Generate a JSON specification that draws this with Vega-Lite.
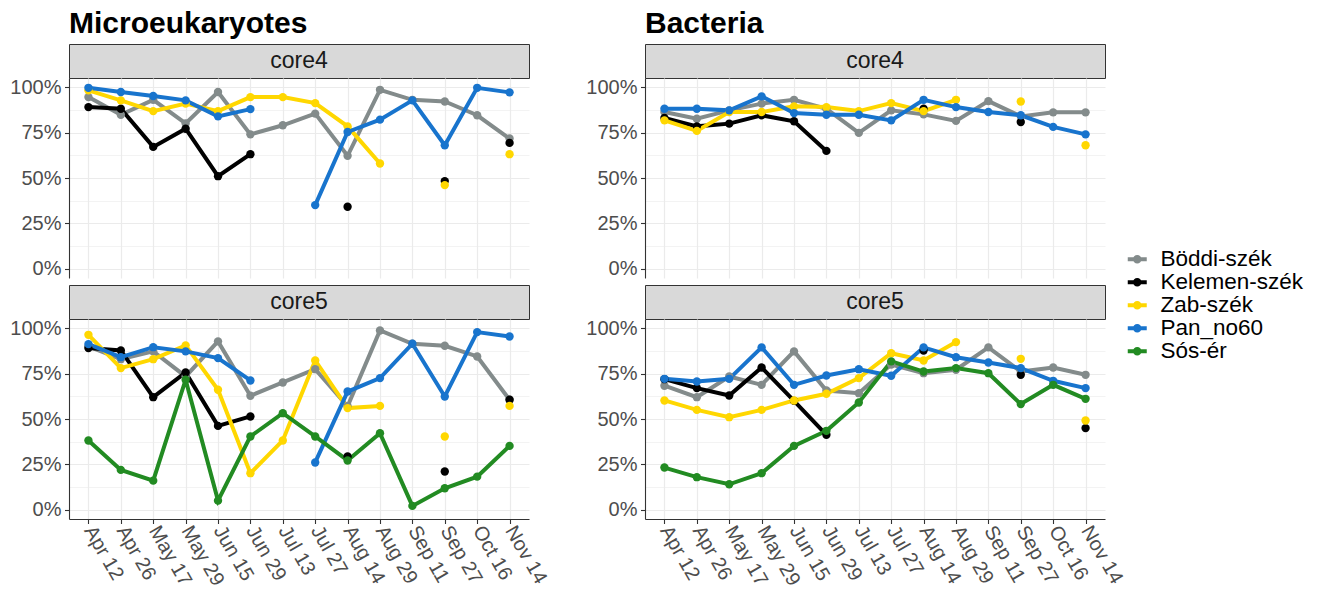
{
  "$schema": "https://vega.github.io/schema/vega-lite/v6.json",
  "padding": {"left": 9, "top": 8, "right": 5, "bottom": 5},
  "config": {
    "font": "Liberation Sans",
    "view": {"stroke": null},
    "axis": {
      "domainColor": "#333333",
      "domainWidth": 1.1,
      "tickColor": "#333333",
      "tickSize": 4.5,
      "tickWidth": 1.1,
      "labelColor": "#4D4D4D",
      "labelFontSize": 20,
      "labelPadding": 3.5,
      "gridColor": "#EBEBEB",
      "gridWidth": 1.2,
      "title": null
    },
    "legend": {
      "labelFontSize": 22.5,
      "labelColor": "#000000",
      "symbolType": "M-1,-0.2H1V0.2H-1Z M0.45,0A0.45,0.45,0,1,1,-0.45,0A0.45,0.45,0,1,1,0.45,0Z",
      "symbolSize": 361,
      "symbolStrokeWidth": 0,
      "rowPadding": 0,
      "labelOffset": 12,
      "padding": 0
    }
  },
  "datasets": {
    "turnover": [
      {"group": "Microeukaryotes", "core": "core4", "site": "Böddi-szék", "date": "Apr 12", "value": 0.945},
      {"group": "Microeukaryotes", "core": "core4", "site": "Böddi-szék", "date": "Apr 26", "value": 0.848},
      {"group": "Microeukaryotes", "core": "core4", "site": "Böddi-szék", "date": "May 17", "value": 0.93},
      {"group": "Microeukaryotes", "core": "core4", "site": "Böddi-szék", "date": "May 29", "value": 0.80},
      {"group": "Microeukaryotes", "core": "core4", "site": "Böddi-szék", "date": "Jun 15", "value": 0.973},
      {"group": "Microeukaryotes", "core": "core4", "site": "Böddi-szék", "date": "Jun 29", "value": 0.74},
      {"group": "Microeukaryotes", "core": "core4", "site": "Böddi-szék", "date": "Jul 13", "value": 0.79},
      {"group": "Microeukaryotes", "core": "core4", "site": "Böddi-szék", "date": "Jul 27", "value": 0.854},
      {"group": "Microeukaryotes", "core": "core4", "site": "Böddi-szék", "date": "Aug 14", "value": 0.622},
      {"group": "Microeukaryotes", "core": "core4", "site": "Böddi-szék", "date": "Aug 29", "value": 0.985},
      {"group": "Microeukaryotes", "core": "core4", "site": "Böddi-szék", "date": "Sep 11", "value": 0.93},
      {"group": "Microeukaryotes", "core": "core4", "site": "Böddi-szék", "date": "Sep 27", "value": 0.921},
      {"group": "Microeukaryotes", "core": "core4", "site": "Böddi-szék", "date": "Oct 16", "value": 0.845},
      {"group": "Microeukaryotes", "core": "core4", "site": "Böddi-szék", "date": "Nov 14", "value": 0.717},
      {"group": "Microeukaryotes", "core": "core4", "site": "Kelemen-szék", "date": "Apr 12", "value": 0.89},
      {"group": "Microeukaryotes", "core": "core4", "site": "Kelemen-szék", "date": "Apr 26", "value": 0.881},
      {"group": "Microeukaryotes", "core": "core4", "site": "Kelemen-szék", "date": "May 17", "value": 0.671},
      {"group": "Microeukaryotes", "core": "core4", "site": "Kelemen-szék", "date": "May 29", "value": 0.771},
      {"group": "Microeukaryotes", "core": "core4", "site": "Kelemen-szék", "date": "Jun 15", "value": 0.51},
      {"group": "Microeukaryotes", "core": "core4", "site": "Kelemen-szék", "date": "Jun 29", "value": 0.631},
      {"group": "Microeukaryotes", "core": "core4", "site": "Kelemen-szék", "date": "Jul 13", "value": null},
      {"group": "Microeukaryotes", "core": "core4", "site": "Kelemen-szék", "date": "Jul 27", "value": null},
      {"group": "Microeukaryotes", "core": "core4", "site": "Kelemen-szék", "date": "Aug 14", "value": 0.342},
      {"group": "Microeukaryotes", "core": "core4", "site": "Kelemen-szék", "date": "Aug 29", "value": null},
      {"group": "Microeukaryotes", "core": "core4", "site": "Kelemen-szék", "date": "Sep 11", "value": null},
      {"group": "Microeukaryotes", "core": "core4", "site": "Kelemen-szék", "date": "Sep 27", "value": 0.483},
      {"group": "Microeukaryotes", "core": "core4", "site": "Kelemen-szék", "date": "Oct 16", "value": null},
      {"group": "Microeukaryotes", "core": "core4", "site": "Kelemen-szék", "date": "Nov 14", "value": 0.693},
      {"group": "Microeukaryotes", "core": "core4", "site": "Zab-szék", "date": "Apr 12", "value": 0.982},
      {"group": "Microeukaryotes", "core": "core4", "site": "Zab-szék", "date": "Apr 26", "value": 0.927},
      {"group": "Microeukaryotes", "core": "core4", "site": "Zab-szék", "date": "May 17", "value": 0.868},
      {"group": "Microeukaryotes", "core": "core4", "site": "Zab-szék", "date": "May 29", "value": 0.909},
      {"group": "Microeukaryotes", "core": "core4", "site": "Zab-szék", "date": "Jun 15", "value": 0.868},
      {"group": "Microeukaryotes", "core": "core4", "site": "Zab-szék", "date": "Jun 29", "value": 0.945},
      {"group": "Microeukaryotes", "core": "core4", "site": "Zab-szék", "date": "Jul 13", "value": 0.945},
      {"group": "Microeukaryotes", "core": "core4", "site": "Zab-szék", "date": "Jul 27", "value": 0.912},
      {"group": "Microeukaryotes", "core": "core4", "site": "Zab-szék", "date": "Aug 14", "value": 0.784},
      {"group": "Microeukaryotes", "core": "core4", "site": "Zab-szék", "date": "Aug 29", "value": 0.58},
      {"group": "Microeukaryotes", "core": "core4", "site": "Zab-szék", "date": "Sep 11", "value": null},
      {"group": "Microeukaryotes", "core": "core4", "site": "Zab-szék", "date": "Sep 27", "value": 0.461},
      {"group": "Microeukaryotes", "core": "core4", "site": "Zab-szék", "date": "Oct 16", "value": null},
      {"group": "Microeukaryotes", "core": "core4", "site": "Zab-szék", "date": "Nov 14", "value": 0.631},
      {"group": "Microeukaryotes", "core": "core4", "site": "Pan_no60", "date": "Apr 12", "value": 0.996},
      {"group": "Microeukaryotes", "core": "core4", "site": "Pan_no60", "date": "Apr 26", "value": 0.973},
      {"group": "Microeukaryotes", "core": "core4", "site": "Pan_no60", "date": "May 17", "value": 0.951},
      {"group": "Microeukaryotes", "core": "core4", "site": "Pan_no60", "date": "May 29", "value": 0.927},
      {"group": "Microeukaryotes", "core": "core4", "site": "Pan_no60", "date": "Jun 15", "value": 0.839},
      {"group": "Microeukaryotes", "core": "core4", "site": "Pan_no60", "date": "Jun 29", "value": 0.879},
      {"group": "Microeukaryotes", "core": "core4", "site": "Pan_no60", "date": "Jul 13", "value": null},
      {"group": "Microeukaryotes", "core": "core4", "site": "Pan_no60", "date": "Jul 27", "value": 0.351},
      {"group": "Microeukaryotes", "core": "core4", "site": "Pan_no60", "date": "Aug 14", "value": 0.753},
      {"group": "Microeukaryotes", "core": "core4", "site": "Pan_no60", "date": "Aug 29", "value": 0.821},
      {"group": "Microeukaryotes", "core": "core4", "site": "Pan_no60", "date": "Sep 11", "value": 0.927},
      {"group": "Microeukaryotes", "core": "core4", "site": "Pan_no60", "date": "Sep 27", "value": 0.68},
      {"group": "Microeukaryotes", "core": "core4", "site": "Pan_no60", "date": "Oct 16", "value": 0.996},
      {"group": "Microeukaryotes", "core": "core4", "site": "Pan_no60", "date": "Nov 14", "value": 0.971},

      {"group": "Microeukaryotes", "core": "core5", "site": "Böddi-szék", "date": "Apr 12", "value": 0.899},
      {"group": "Microeukaryotes", "core": "core5", "site": "Böddi-szék", "date": "Apr 26", "value": 0.829},
      {"group": "Microeukaryotes", "core": "core5", "site": "Böddi-szék", "date": "May 17", "value": 0.872},
      {"group": "Microeukaryotes", "core": "core5", "site": "Böddi-szék", "date": "May 29", "value": 0.734},
      {"group": "Microeukaryotes", "core": "core5", "site": "Böddi-szék", "date": "Jun 15", "value": 0.927},
      {"group": "Microeukaryotes", "core": "core5", "site": "Böddi-szék", "date": "Jun 29", "value": 0.628},
      {"group": "Microeukaryotes", "core": "core5", "site": "Böddi-szék", "date": "Jul 13", "value": 0.701},
      {"group": "Microeukaryotes", "core": "core5", "site": "Böddi-szék", "date": "Jul 27", "value": 0.774},
      {"group": "Microeukaryotes", "core": "core5", "site": "Böddi-szék", "date": "Aug 14", "value": 0.57},
      {"group": "Microeukaryotes", "core": "core5", "site": "Böddi-szék", "date": "Aug 29", "value": 0.987},
      {"group": "Microeukaryotes", "core": "core5", "site": "Böddi-szék", "date": "Sep 11", "value": 0.914},
      {"group": "Microeukaryotes", "core": "core5", "site": "Böddi-szék", "date": "Sep 27", "value": 0.903},
      {"group": "Microeukaryotes", "core": "core5", "site": "Böddi-szék", "date": "Oct 16", "value": 0.844},
      {"group": "Microeukaryotes", "core": "core5", "site": "Böddi-szék", "date": "Nov 14", "value": 0.606},
      {"group": "Microeukaryotes", "core": "core5", "site": "Kelemen-szék", "date": "Apr 12", "value": 0.89},
      {"group": "Microeukaryotes", "core": "core5", "site": "Kelemen-szék", "date": "Apr 26", "value": 0.877},
      {"group": "Microeukaryotes", "core": "core5", "site": "Kelemen-szék", "date": "May 17", "value": 0.62},
      {"group": "Microeukaryotes", "core": "core5", "site": "Kelemen-szék", "date": "May 29", "value": 0.756},
      {"group": "Microeukaryotes", "core": "core5", "site": "Kelemen-szék", "date": "Jun 15", "value": 0.462},
      {"group": "Microeukaryotes", "core": "core5", "site": "Kelemen-szék", "date": "Jun 29", "value": 0.514},
      {"group": "Microeukaryotes", "core": "core5", "site": "Kelemen-szék", "date": "Jul 13", "value": null},
      {"group": "Microeukaryotes", "core": "core5", "site": "Kelemen-szék", "date": "Jul 27", "value": null},
      {"group": "Microeukaryotes", "core": "core5", "site": "Kelemen-szék", "date": "Aug 14", "value": 0.294},
      {"group": "Microeukaryotes", "core": "core5", "site": "Kelemen-szék", "date": "Aug 29", "value": null},
      {"group": "Microeukaryotes", "core": "core5", "site": "Kelemen-szék", "date": "Sep 11", "value": null},
      {"group": "Microeukaryotes", "core": "core5", "site": "Kelemen-szék", "date": "Sep 27", "value": 0.211},
      {"group": "Microeukaryotes", "core": "core5", "site": "Kelemen-szék", "date": "Oct 16", "value": null},
      {"group": "Microeukaryotes", "core": "core5", "site": "Kelemen-szék", "date": "Nov 14", "value": 0.606},
      {"group": "Microeukaryotes", "core": "core5", "site": "Zab-szék", "date": "Apr 12", "value": 0.963},
      {"group": "Microeukaryotes", "core": "core5", "site": "Zab-szék", "date": "Apr 26", "value": 0.78},
      {"group": "Microeukaryotes", "core": "core5", "site": "Zab-szék", "date": "May 17", "value": 0.829},
      {"group": "Microeukaryotes", "core": "core5", "site": "Zab-szék", "date": "May 29", "value": 0.905},
      {"group": "Microeukaryotes", "core": "core5", "site": "Zab-szék", "date": "Jun 15", "value": 0.661},
      {"group": "Microeukaryotes", "core": "core5", "site": "Zab-szék", "date": "Jun 29", "value": 0.202},
      {"group": "Microeukaryotes", "core": "core5", "site": "Zab-szék", "date": "Jul 13", "value": 0.382},
      {"group": "Microeukaryotes", "core": "core5", "site": "Zab-szék", "date": "Jul 27", "value": 0.822},
      {"group": "Microeukaryotes", "core": "core5", "site": "Zab-szék", "date": "Aug 14", "value": 0.56},
      {"group": "Microeukaryotes", "core": "core5", "site": "Zab-szék", "date": "Aug 29", "value": 0.572},
      {"group": "Microeukaryotes", "core": "core5", "site": "Zab-szék", "date": "Sep 11", "value": null},
      {"group": "Microeukaryotes", "core": "core5", "site": "Zab-szék", "date": "Sep 27", "value": 0.404},
      {"group": "Microeukaryotes", "core": "core5", "site": "Zab-szék", "date": "Oct 16", "value": null},
      {"group": "Microeukaryotes", "core": "core5", "site": "Zab-szék", "date": "Nov 14", "value": 0.572},
      {"group": "Microeukaryotes", "core": "core5", "site": "Pan_no60", "date": "Apr 12", "value": 0.912},
      {"group": "Microeukaryotes", "core": "core5", "site": "Pan_no60", "date": "Apr 26", "value": 0.84},
      {"group": "Microeukaryotes", "core": "core5", "site": "Pan_no60", "date": "May 17", "value": 0.895},
      {"group": "Microeukaryotes", "core": "core5", "site": "Pan_no60", "date": "May 29", "value": 0.872},
      {"group": "Microeukaryotes", "core": "core5", "site": "Pan_no60", "date": "Jun 15", "value": 0.835},
      {"group": "Microeukaryotes", "core": "core5", "site": "Pan_no60", "date": "Jun 29", "value": 0.712},
      {"group": "Microeukaryotes", "core": "core5", "site": "Pan_no60", "date": "Jul 13", "value": null},
      {"group": "Microeukaryotes", "core": "core5", "site": "Pan_no60", "date": "Jul 27", "value": 0.261},
      {"group": "Microeukaryotes", "core": "core5", "site": "Pan_no60", "date": "Aug 14", "value": 0.651},
      {"group": "Microeukaryotes", "core": "core5", "site": "Pan_no60", "date": "Aug 29", "value": 0.725},
      {"group": "Microeukaryotes", "core": "core5", "site": "Pan_no60", "date": "Sep 11", "value": 0.914},
      {"group": "Microeukaryotes", "core": "core5", "site": "Pan_no60", "date": "Sep 27", "value": 0.624},
      {"group": "Microeukaryotes", "core": "core5", "site": "Pan_no60", "date": "Oct 16", "value": 0.978},
      {"group": "Microeukaryotes", "core": "core5", "site": "Pan_no60", "date": "Nov 14", "value": 0.954},
      {"group": "Microeukaryotes", "core": "core5", "site": "Sós-ér", "date": "Apr 12", "value": 0.382},
      {"group": "Microeukaryotes", "core": "core5", "site": "Sós-ér", "date": "Apr 26", "value": 0.22},
      {"group": "Microeukaryotes", "core": "core5", "site": "Sós-ér", "date": "May 17", "value": 0.161},
      {"group": "Microeukaryotes", "core": "core5", "site": "Sós-ér", "date": "May 29", "value": 0.716},
      {"group": "Microeukaryotes", "core": "core5", "site": "Sós-ér", "date": "Jun 15", "value": 0.051},
      {"group": "Microeukaryotes", "core": "core5", "site": "Sós-ér", "date": "Jun 29", "value": 0.404},
      {"group": "Microeukaryotes", "core": "core5", "site": "Sós-ér", "date": "Jul 13", "value": 0.532},
      {"group": "Microeukaryotes", "core": "core5", "site": "Sós-ér", "date": "Jul 27", "value": 0.404},
      {"group": "Microeukaryotes", "core": "core5", "site": "Sós-ér", "date": "Aug 14", "value": 0.272},
      {"group": "Microeukaryotes", "core": "core5", "site": "Sós-ér", "date": "Aug 29", "value": 0.422},
      {"group": "Microeukaryotes", "core": "core5", "site": "Sós-ér", "date": "Sep 11", "value": 0.022},
      {"group": "Microeukaryotes", "core": "core5", "site": "Sós-ér", "date": "Sep 27", "value": 0.119},
      {"group": "Microeukaryotes", "core": "core5", "site": "Sós-ér", "date": "Oct 16", "value": 0.183},
      {"group": "Microeukaryotes", "core": "core5", "site": "Sós-ér", "date": "Nov 14", "value": 0.352},

      {"group": "Bacteria", "core": "core4", "site": "Böddi-szék", "date": "Apr 12", "value": 0.863},
      {"group": "Bacteria", "core": "core4", "site": "Böddi-szék", "date": "Apr 26", "value": 0.826},
      {"group": "Bacteria", "core": "core4", "site": "Böddi-szék", "date": "May 17", "value": 0.872},
      {"group": "Bacteria", "core": "core4", "site": "Böddi-szék", "date": "May 29", "value": 0.909},
      {"group": "Bacteria", "core": "core4", "site": "Böddi-szék", "date": "Jun 15", "value": 0.93},
      {"group": "Bacteria", "core": "core4", "site": "Böddi-szék", "date": "Jun 29", "value": 0.88},
      {"group": "Bacteria", "core": "core4", "site": "Böddi-szék", "date": "Jul 13", "value": 0.748},
      {"group": "Bacteria", "core": "core4", "site": "Böddi-szék", "date": "Jul 27", "value": 0.872},
      {"group": "Bacteria", "core": "core4", "site": "Böddi-szék", "date": "Aug 14", "value": 0.85},
      {"group": "Bacteria", "core": "core4", "site": "Böddi-szék", "date": "Aug 29", "value": 0.814},
      {"group": "Bacteria", "core": "core4", "site": "Böddi-szék", "date": "Sep 11", "value": 0.923},
      {"group": "Bacteria", "core": "core4", "site": "Böddi-szék", "date": "Sep 27", "value": 0.839},
      {"group": "Bacteria", "core": "core4", "site": "Böddi-szék", "date": "Oct 16", "value": 0.861},
      {"group": "Bacteria", "core": "core4", "site": "Böddi-szék", "date": "Nov 14", "value": 0.861},
      {"group": "Bacteria", "core": "core4", "site": "Kelemen-szék", "date": "Apr 12", "value": 0.83},
      {"group": "Bacteria", "core": "core4", "site": "Kelemen-szék", "date": "Apr 26", "value": 0.784},
      {"group": "Bacteria", "core": "core4", "site": "Kelemen-szék", "date": "May 17", "value": 0.799},
      {"group": "Bacteria", "core": "core4", "site": "Kelemen-szék", "date": "May 29", "value": 0.845},
      {"group": "Bacteria", "core": "core4", "site": "Kelemen-szék", "date": "Jun 15", "value": 0.812},
      {"group": "Bacteria", "core": "core4", "site": "Kelemen-szék", "date": "Jun 29", "value": 0.649},
      {"group": "Bacteria", "core": "core4", "site": "Kelemen-szék", "date": "Jul 13", "value": null},
      {"group": "Bacteria", "core": "core4", "site": "Kelemen-szék", "date": "Jul 27", "value": null},
      {"group": "Bacteria", "core": "core4", "site": "Kelemen-szék", "date": "Aug 14", "value": 0.881},
      {"group": "Bacteria", "core": "core4", "site": "Kelemen-szék", "date": "Aug 29", "value": null},
      {"group": "Bacteria", "core": "core4", "site": "Kelemen-szék", "date": "Sep 11", "value": null},
      {"group": "Bacteria", "core": "core4", "site": "Kelemen-szék", "date": "Sep 27", "value": 0.808},
      {"group": "Bacteria", "core": "core4", "site": "Kelemen-szék", "date": "Oct 16", "value": null},
      {"group": "Bacteria", "core": "core4", "site": "Kelemen-szék", "date": "Nov 14", "value": null},
      {"group": "Bacteria", "core": "core4", "site": "Zab-szék", "date": "Apr 12", "value": 0.817},
      {"group": "Bacteria", "core": "core4", "site": "Zab-szék", "date": "Apr 26", "value": 0.759},
      {"group": "Bacteria", "core": "core4", "site": "Zab-szék", "date": "May 17", "value": 0.863},
      {"group": "Bacteria", "core": "core4", "site": "Zab-szék", "date": "May 29", "value": 0.863},
      {"group": "Bacteria", "core": "core4", "site": "Zab-szék", "date": "Jun 15", "value": 0.894},
      {"group": "Bacteria", "core": "core4", "site": "Zab-szék", "date": "Jun 29", "value": 0.89},
      {"group": "Bacteria", "core": "core4", "site": "Zab-szék", "date": "Jul 13", "value": 0.868},
      {"group": "Bacteria", "core": "core4", "site": "Zab-szék", "date": "Jul 27", "value": 0.912},
      {"group": "Bacteria", "core": "core4", "site": "Zab-szék", "date": "Aug 14", "value": 0.868},
      {"group": "Bacteria", "core": "core4", "site": "Zab-szék", "date": "Aug 29", "value": 0.93},
      {"group": "Bacteria", "core": "core4", "site": "Zab-szék", "date": "Sep 11", "value": null},
      {"group": "Bacteria", "core": "core4", "site": "Zab-szék", "date": "Sep 27", "value": 0.921},
      {"group": "Bacteria", "core": "core4", "site": "Zab-szék", "date": "Oct 16", "value": null},
      {"group": "Bacteria", "core": "core4", "site": "Zab-szék", "date": "Nov 14", "value": 0.68},
      {"group": "Bacteria", "core": "core4", "site": "Pan_no60", "date": "Apr 12", "value": 0.881},
      {"group": "Bacteria", "core": "core4", "site": "Pan_no60", "date": "Apr 26", "value": 0.881},
      {"group": "Bacteria", "core": "core4", "site": "Pan_no60", "date": "May 17", "value": 0.872},
      {"group": "Bacteria", "core": "core4", "site": "Pan_no60", "date": "May 29", "value": 0.949},
      {"group": "Bacteria", "core": "core4", "site": "Pan_no60", "date": "Jun 15", "value": 0.857},
      {"group": "Bacteria", "core": "core4", "site": "Pan_no60", "date": "Jun 29", "value": 0.848},
      {"group": "Bacteria", "core": "core4", "site": "Pan_no60", "date": "Jul 13", "value": 0.848},
      {"group": "Bacteria", "core": "core4", "site": "Pan_no60", "date": "Jul 27", "value": 0.817},
      {"group": "Bacteria", "core": "core4", "site": "Pan_no60", "date": "Aug 14", "value": 0.93},
      {"group": "Bacteria", "core": "core4", "site": "Pan_no60", "date": "Aug 29", "value": 0.89},
      {"group": "Bacteria", "core": "core4", "site": "Pan_no60", "date": "Sep 11", "value": 0.863},
      {"group": "Bacteria", "core": "core4", "site": "Pan_no60", "date": "Sep 27", "value": 0.845},
      {"group": "Bacteria", "core": "core4", "site": "Pan_no60", "date": "Oct 16", "value": 0.781},
      {"group": "Bacteria", "core": "core4", "site": "Pan_no60", "date": "Nov 14", "value": 0.74},

      {"group": "Bacteria", "core": "core5", "site": "Böddi-szék", "date": "Apr 12", "value": 0.683},
      {"group": "Bacteria", "core": "core5", "site": "Böddi-szék", "date": "Apr 26", "value": 0.62},
      {"group": "Bacteria", "core": "core5", "site": "Böddi-szék", "date": "May 17", "value": 0.734},
      {"group": "Bacteria", "core": "core5", "site": "Böddi-szék", "date": "May 29", "value": 0.688},
      {"group": "Bacteria", "core": "core5", "site": "Böddi-szék", "date": "Jun 15", "value": 0.872},
      {"group": "Bacteria", "core": "core5", "site": "Böddi-szék", "date": "Jun 29", "value": 0.657},
      {"group": "Bacteria", "core": "core5", "site": "Böddi-szék", "date": "Jul 13", "value": 0.642},
      {"group": "Bacteria", "core": "core5", "site": "Böddi-szék", "date": "Jul 27", "value": 0.80},
      {"group": "Bacteria", "core": "core5", "site": "Böddi-szék", "date": "Aug 14", "value": 0.752},
      {"group": "Bacteria", "core": "core5", "site": "Böddi-szék", "date": "Aug 29", "value": 0.771},
      {"group": "Bacteria", "core": "core5", "site": "Böddi-szék", "date": "Sep 11", "value": 0.894},
      {"group": "Bacteria", "core": "core5", "site": "Böddi-szék", "date": "Sep 27", "value": 0.761},
      {"group": "Bacteria", "core": "core5", "site": "Böddi-szék", "date": "Oct 16", "value": 0.783},
      {"group": "Bacteria", "core": "core5", "site": "Böddi-szék", "date": "Nov 14", "value": 0.743},
      {"group": "Bacteria", "core": "core5", "site": "Kelemen-szék", "date": "Apr 12", "value": 0.719},
      {"group": "Bacteria", "core": "core5", "site": "Kelemen-szék", "date": "Apr 26", "value": 0.67},
      {"group": "Bacteria", "core": "core5", "site": "Kelemen-szék", "date": "May 17", "value": 0.629},
      {"group": "Bacteria", "core": "core5", "site": "Kelemen-szék", "date": "May 29", "value": 0.783},
      {"group": "Bacteria", "core": "core5", "site": "Kelemen-szék", "date": "Jun 15", "value": 0.60},
      {"group": "Bacteria", "core": "core5", "site": "Kelemen-szék", "date": "Jun 29", "value": 0.413},
      {"group": "Bacteria", "core": "core5", "site": "Kelemen-szék", "date": "Jul 13", "value": null},
      {"group": "Bacteria", "core": "core5", "site": "Kelemen-szék", "date": "Jul 27", "value": null},
      {"group": "Bacteria", "core": "core5", "site": "Kelemen-szék", "date": "Aug 14", "value": 0.877},
      {"group": "Bacteria", "core": "core5", "site": "Kelemen-szék", "date": "Aug 29", "value": null},
      {"group": "Bacteria", "core": "core5", "site": "Kelemen-szék", "date": "Sep 11", "value": null},
      {"group": "Bacteria", "core": "core5", "site": "Kelemen-szék", "date": "Sep 27", "value": 0.743},
      {"group": "Bacteria", "core": "core5", "site": "Kelemen-szék", "date": "Oct 16", "value": null},
      {"group": "Bacteria", "core": "core5", "site": "Kelemen-szék", "date": "Nov 14", "value": 0.45},
      {"group": "Bacteria", "core": "core5", "site": "Zab-szék", "date": "Apr 12", "value": 0.602},
      {"group": "Bacteria", "core": "core5", "site": "Zab-szék", "date": "Apr 26", "value": 0.55},
      {"group": "Bacteria", "core": "core5", "site": "Zab-szék", "date": "May 17", "value": 0.51},
      {"group": "Bacteria", "core": "core5", "site": "Zab-szék", "date": "May 29", "value": 0.55},
      {"group": "Bacteria", "core": "core5", "site": "Zab-szék", "date": "Jun 15", "value": 0.602},
      {"group": "Bacteria", "core": "core5", "site": "Zab-szék", "date": "Jun 29", "value": 0.639},
      {"group": "Bacteria", "core": "core5", "site": "Zab-szék", "date": "Jul 13", "value": 0.725},
      {"group": "Bacteria", "core": "core5", "site": "Zab-szék", "date": "Jul 27", "value": 0.862},
      {"group": "Bacteria", "core": "core5", "site": "Zab-szék", "date": "Aug 14", "value": 0.822},
      {"group": "Bacteria", "core": "core5", "site": "Zab-szék", "date": "Aug 29", "value": 0.923},
      {"group": "Bacteria", "core": "core5", "site": "Zab-szék", "date": "Sep 11", "value": null},
      {"group": "Bacteria", "core": "core5", "site": "Zab-szék", "date": "Sep 27", "value": 0.831},
      {"group": "Bacteria", "core": "core5", "site": "Zab-szék", "date": "Oct 16", "value": null},
      {"group": "Bacteria", "core": "core5", "site": "Zab-szék", "date": "Nov 14", "value": 0.492},
      {"group": "Bacteria", "core": "core5", "site": "Pan_no60", "date": "Apr 12", "value": 0.721},
      {"group": "Bacteria", "core": "core5", "site": "Pan_no60", "date": "Apr 26", "value": 0.706},
      {"group": "Bacteria", "core": "core5", "site": "Pan_no60", "date": "May 17", "value": 0.721},
      {"group": "Bacteria", "core": "core5", "site": "Pan_no60", "date": "May 29", "value": 0.894},
      {"group": "Bacteria", "core": "core5", "site": "Pan_no60", "date": "Jun 15", "value": 0.688},
      {"group": "Bacteria", "core": "core5", "site": "Pan_no60", "date": "Jun 29", "value": 0.739},
      {"group": "Bacteria", "core": "core5", "site": "Pan_no60", "date": "Jul 13", "value": 0.774},
      {"group": "Bacteria", "core": "core5", "site": "Pan_no60", "date": "Jul 27", "value": 0.738},
      {"group": "Bacteria", "core": "core5", "site": "Pan_no60", "date": "Aug 14", "value": 0.894},
      {"group": "Bacteria", "core": "core5", "site": "Pan_no60", "date": "Aug 29", "value": 0.84},
      {"group": "Bacteria", "core": "core5", "site": "Pan_no60", "date": "Sep 11", "value": 0.811},
      {"group": "Bacteria", "core": "core5", "site": "Pan_no60", "date": "Sep 27", "value": 0.78},
      {"group": "Bacteria", "core": "core5", "site": "Pan_no60", "date": "Oct 16", "value": 0.71},
      {"group": "Bacteria", "core": "core5", "site": "Pan_no60", "date": "Nov 14", "value": 0.67},
      {"group": "Bacteria", "core": "core5", "site": "Sós-ér", "date": "Apr 12", "value": 0.233},
      {"group": "Bacteria", "core": "core5", "site": "Sós-ér", "date": "Apr 26", "value": 0.18},
      {"group": "Bacteria", "core": "core5", "site": "Sós-ér", "date": "May 17", "value": 0.141},
      {"group": "Bacteria", "core": "core5", "site": "Sós-ér", "date": "May 29", "value": 0.202},
      {"group": "Bacteria", "core": "core5", "site": "Sós-ér", "date": "Jun 15", "value": 0.352},
      {"group": "Bacteria", "core": "core5", "site": "Sós-ér", "date": "Jun 29", "value": 0.435},
      {"group": "Bacteria", "core": "core5", "site": "Sós-ér", "date": "Jul 13", "value": 0.591},
      {"group": "Bacteria", "core": "core5", "site": "Sós-ér", "date": "Jul 27", "value": 0.817},
      {"group": "Bacteria", "core": "core5", "site": "Sós-ér", "date": "Aug 14", "value": 0.761},
      {"group": "Bacteria", "core": "core5", "site": "Sós-ér", "date": "Aug 29", "value": 0.78},
      {"group": "Bacteria", "core": "core5", "site": "Sós-ér", "date": "Sep 11", "value": 0.752},
      {"group": "Bacteria", "core": "core5", "site": "Sós-ér", "date": "Sep 27", "value": 0.582},
      {"group": "Bacteria", "core": "core5", "site": "Sós-ér", "date": "Oct 16", "value": 0.688},
      {"group": "Bacteria", "core": "core5", "site": "Sós-ér", "date": "Nov 14", "value": 0.611}
    ]
  },
  "hconcat": [
    {
      "vconcat": [
        {
          "vconcat": [
            {
              "title": {"text": "Microeukaryotes", "anchor": "start", "frame": "group", "fontSize": 30, "fontWeight": "bold", "color": "#000000", "baseline": "alphabetic", "offset": -19},
              "width": 460, "height": 34,
              "view": {"fill": "#D9D9D9", "stroke": "#333333", "strokeWidth": 1},
              "data": {"name": "turnover"},
              "transform": [
                {"filter": "datum.group === 'Microeukaryotes' && datum.core === 'core4'"},
                {"aggregate": [{"op": "count", "as": "n"}], "groupby": ["core"]}
              ],
              "mark": {"type": "text", "fontSize": 23, "color": "#1A1A1A"},
              "encoding": {"text": {"field": "core", "type": "nominal"}}
            },
            {
              "width": 460, "height": 200,
              "data": {"name": "turnover"},
              "transform": [{"filter": "datum.group === 'Microeukaryotes' && datum.core === 'core4'"}],
              "encoding": {
                "x": {"field": "date", "type": "ordinal", "scale": {"domain": ["Apr 12", "Apr 26", "May 17", "May 29", "Jun 15", "Jun 29", "Jul 13", "Jul 27", "Aug 14", "Aug 29", "Sep 11", "Sep 27", "Oct 16", "Nov 14"], "padding": 0.6},
                  "axis": {"labels": false, "ticks": false, "domain": false, "grid": true}},
                "y": {"field": "value", "type": "quantitative", "scale": {"domain": [-0.05, 1.05], "nice": false, "zero": false},
                  "axis": {"values": [0, 0.125, 0.25, 0.375, 0.5, 0.625, 0.75, 0.875, 1], "format": ".0%",
                    "labelExpr": "(datum.value * 8) % 2 == 1 ? '' : datum.label",
                    "gridWidth": {"condition": {"test": "(datum.value * 8) % 2 == 1", "value": 0.6}, "value": 1.2},
                    "tickOpacity": {"condition": {"test": "(datum.value * 8) % 2 == 1", "value": 0}, "value": 1}}}
              },
              "layer": [
                {
                  "mark": {"type": "line", "strokeWidth": 4, "invalid": "break-paths-show-domains"},
                  "encoding": {"color": {"field": "site", "type": "nominal", "scale": {"domain": ["Böddi-szék", "Kelemen-szék", "Zab-szék", "Pan_no60", "Sós-ér"], "range": ["#838B8B", "#000000", "#FFD700", "#1874CD", "#228B22"]},
                    "legend": {"title": null, "orient": "none", "legendX": 1057, "legendY": 204, "encode": {"symbols": {"update": {"fill": {"scale": "color", "field": "value"}, "strokeWidth": {"value": 0}}}}}}}
                },
                {
                  "mark": {"type": "circle", "size": 70, "opacity": 1},
                  "encoding": {"color": {"field": "site", "type": "nominal", "scale": {"domain": ["Böddi-szék", "Kelemen-szék", "Zab-szék", "Pan_no60", "Sós-ér"], "range": ["#838B8B", "#000000", "#FFD700", "#1874CD", "#228B22"]},
                    "legend": {"title": null, "orient": "none", "legendX": 1057, "legendY": 204, "encode": {"symbols": {"update": {"fill": {"scale": "color", "field": "value"}, "strokeWidth": {"value": 0}}}}}}}
                }
              ]
            }
          ],
          "spacing": 0, "bounds": "flush"
        },
        {
          "vconcat": [
            {
              "width": 460, "height": 34,
              "view": {"fill": "#D9D9D9", "stroke": "#333333", "strokeWidth": 1},
              "data": {"name": "turnover"},
              "transform": [
                {"filter": "datum.group === 'Microeukaryotes' && datum.core === 'core5'"},
                {"aggregate": [{"op": "count", "as": "n"}], "groupby": ["core"]}
              ],
              "mark": {"type": "text", "fontSize": 23, "color": "#1A1A1A"},
              "encoding": {"text": {"field": "core", "type": "nominal"}}
            },
            {
              "width": 460, "height": 200,
              "data": {"name": "turnover"},
              "transform": [{"filter": "datum.group === 'Microeukaryotes' && datum.core === 'core5'"}],
              "encoding": {
                "x": {"field": "date", "type": "ordinal", "scale": {"domain": ["Apr 12", "Apr 26", "May 17", "May 29", "Jun 15", "Jun 29", "Jul 13", "Jul 27", "Aug 14", "Aug 29", "Sep 11", "Sep 27", "Oct 16", "Nov 14"], "padding": 0.6},
                  "axis": {"labelAngle": 60, "labelAlign": "left", "labelBaseline": "middle", "grid": true}},
                "y": {"field": "value", "type": "quantitative", "scale": {"domain": [-0.05, 1.05], "nice": false, "zero": false},
                  "axis": {"values": [0, 0.125, 0.25, 0.375, 0.5, 0.625, 0.75, 0.875, 1], "format": ".0%",
                    "labelExpr": "(datum.value * 8) % 2 == 1 ? '' : datum.label",
                    "gridWidth": {"condition": {"test": "(datum.value * 8) % 2 == 1", "value": 0.6}, "value": 1.2},
                    "tickOpacity": {"condition": {"test": "(datum.value * 8) % 2 == 1", "value": 0}, "value": 1}}}
              },
              "layer": [
                {
                  "mark": {"type": "line", "strokeWidth": 4, "invalid": "break-paths-show-domains"},
                  "encoding": {"color": {"field": "site", "type": "nominal", "scale": {"domain": ["Böddi-szék", "Kelemen-szék", "Zab-szék", "Pan_no60", "Sós-ér"], "range": ["#838B8B", "#000000", "#FFD700", "#1874CD", "#228B22"]},
                    "legend": {"title": null, "orient": "none", "legendX": 1057, "legendY": 204, "encode": {"symbols": {"update": {"fill": {"scale": "color", "field": "value"}, "strokeWidth": {"value": 0}}}}}}}
                },
                {
                  "mark": {"type": "circle", "size": 70, "opacity": 1},
                  "encoding": {"color": {"field": "site", "type": "nominal", "scale": {"domain": ["Böddi-szék", "Kelemen-szék", "Zab-szék", "Pan_no60", "Sós-ér"], "range": ["#838B8B", "#000000", "#FFD700", "#1874CD", "#228B22"]},
                    "legend": {"title": null, "orient": "none", "legendX": 1057, "legendY": 204, "encode": {"symbols": {"update": {"fill": {"scale": "color", "field": "value"}, "strokeWidth": {"value": 0}}}}}}}
                }
              ]
            }
          ],
          "spacing": 0, "bounds": "flush"
        }
      ],
      "spacing": 5
    },
    {
      "vconcat": [
        {
          "vconcat": [
            {
              "title": {"text": "Bacteria", "anchor": "start", "frame": "group", "fontSize": 30, "fontWeight": "bold", "color": "#000000", "baseline": "alphabetic", "offset": -19},
              "width": 460, "height": 34,
              "view": {"fill": "#D9D9D9", "stroke": "#333333", "strokeWidth": 1},
              "data": {"name": "turnover"},
              "transform": [
                {"filter": "datum.group === 'Bacteria' && datum.core === 'core4'"},
                {"aggregate": [{"op": "count", "as": "n"}], "groupby": ["core"]}
              ],
              "mark": {"type": "text", "fontSize": 23, "color": "#1A1A1A"},
              "encoding": {"text": {"field": "core", "type": "nominal"}}
            },
            {
              "width": 460, "height": 200,
              "data": {"name": "turnover"},
              "transform": [{"filter": "datum.group === 'Bacteria' && datum.core === 'core4'"}],
              "encoding": {
                "x": {"field": "date", "type": "ordinal", "scale": {"domain": ["Apr 12", "Apr 26", "May 17", "May 29", "Jun 15", "Jun 29", "Jul 13", "Jul 27", "Aug 14", "Aug 29", "Sep 11", "Sep 27", "Oct 16", "Nov 14"], "padding": 0.6},
                  "axis": {"labels": false, "ticks": false, "domain": false, "grid": true}},
                "y": {"field": "value", "type": "quantitative", "scale": {"domain": [-0.05, 1.05], "nice": false, "zero": false},
                  "axis": {"values": [0, 0.125, 0.25, 0.375, 0.5, 0.625, 0.75, 0.875, 1], "format": ".0%",
                    "labelExpr": "(datum.value * 8) % 2 == 1 ? '' : datum.label",
                    "gridWidth": {"condition": {"test": "(datum.value * 8) % 2 == 1", "value": 0.6}, "value": 1.2},
                    "tickOpacity": {"condition": {"test": "(datum.value * 8) % 2 == 1", "value": 0}, "value": 1}}}
              },
              "layer": [
                {
                  "mark": {"type": "line", "strokeWidth": 4, "invalid": "break-paths-show-domains"},
                  "encoding": {"color": {"field": "site", "type": "nominal", "scale": {"domain": ["Böddi-szék", "Kelemen-szék", "Zab-szék", "Pan_no60", "Sós-ér"], "range": ["#838B8B", "#000000", "#FFD700", "#1874CD", "#228B22"]},
                    "legend": {"title": null, "orient": "none", "legendX": 1057, "legendY": 204, "encode": {"symbols": {"update": {"fill": {"scale": "color", "field": "value"}, "strokeWidth": {"value": 0}}}}}}}
                },
                {
                  "mark": {"type": "circle", "size": 70, "opacity": 1},
                  "encoding": {"color": {"field": "site", "type": "nominal", "scale": {"domain": ["Böddi-szék", "Kelemen-szék", "Zab-szék", "Pan_no60", "Sós-ér"], "range": ["#838B8B", "#000000", "#FFD700", "#1874CD", "#228B22"]},
                    "legend": {"title": null, "orient": "none", "legendX": 1057, "legendY": 204, "encode": {"symbols": {"update": {"fill": {"scale": "color", "field": "value"}, "strokeWidth": {"value": 0}}}}}}}
                }
              ]
            }
          ],
          "spacing": 0, "bounds": "flush"
        },
        {
          "vconcat": [
            {
              "width": 460, "height": 34,
              "view": {"fill": "#D9D9D9", "stroke": "#333333", "strokeWidth": 1},
              "data": {"name": "turnover"},
              "transform": [
                {"filter": "datum.group === 'Bacteria' && datum.core === 'core5'"},
                {"aggregate": [{"op": "count", "as": "n"}], "groupby": ["core"]}
              ],
              "mark": {"type": "text", "fontSize": 23, "color": "#1A1A1A"},
              "encoding": {"text": {"field": "core", "type": "nominal"}}
            },
            {
              "width": 460, "height": 200,
              "data": {"name": "turnover"},
              "transform": [{"filter": "datum.group === 'Bacteria' && datum.core === 'core5'"}],
              "encoding": {
                "x": {"field": "date", "type": "ordinal", "scale": {"domain": ["Apr 12", "Apr 26", "May 17", "May 29", "Jun 15", "Jun 29", "Jul 13", "Jul 27", "Aug 14", "Aug 29", "Sep 11", "Sep 27", "Oct 16", "Nov 14"], "padding": 0.6},
                  "axis": {"labelAngle": 60, "labelAlign": "left", "labelBaseline": "middle", "grid": true}},
                "y": {"field": "value", "type": "quantitative", "scale": {"domain": [-0.05, 1.05], "nice": false, "zero": false},
                  "axis": {"values": [0, 0.125, 0.25, 0.375, 0.5, 0.625, 0.75, 0.875, 1], "format": ".0%",
                    "labelExpr": "(datum.value * 8) % 2 == 1 ? '' : datum.label",
                    "gridWidth": {"condition": {"test": "(datum.value * 8) % 2 == 1", "value": 0.6}, "value": 1.2},
                    "tickOpacity": {"condition": {"test": "(datum.value * 8) % 2 == 1", "value": 0}, "value": 1}}}
              },
              "layer": [
                {
                  "mark": {"type": "line", "strokeWidth": 4, "invalid": "break-paths-show-domains"},
                  "encoding": {"color": {"field": "site", "type": "nominal", "scale": {"domain": ["Böddi-szék", "Kelemen-szék", "Zab-szék", "Pan_no60", "Sós-ér"], "range": ["#838B8B", "#000000", "#FFD700", "#1874CD", "#228B22"]},
                    "legend": {"title": null, "orient": "none", "legendX": 1057, "legendY": 204, "encode": {"symbols": {"update": {"fill": {"scale": "color", "field": "value"}, "strokeWidth": {"value": 0}}}}}}}
                },
                {
                  "mark": {"type": "circle", "size": 70, "opacity": 1},
                  "encoding": {"color": {"field": "site", "type": "nominal", "scale": {"domain": ["Böddi-szék", "Kelemen-szék", "Zab-szék", "Pan_no60", "Sós-ér"], "range": ["#838B8B", "#000000", "#FFD700", "#1874CD", "#228B22"]},
                    "legend": {"title": null, "orient": "none", "legendX": 1057, "legendY": 204, "encode": {"symbols": {"update": {"fill": {"scale": "color", "field": "value"}, "strokeWidth": {"value": 0}}}}}}}
                }
              ]
            }
          ],
          "spacing": 0, "bounds": "flush"
        }
      ],
      "spacing": 5
    }
  ],
  "spacing": 35,
  "resolve": {"scale": {"color": "shared"}}
}
